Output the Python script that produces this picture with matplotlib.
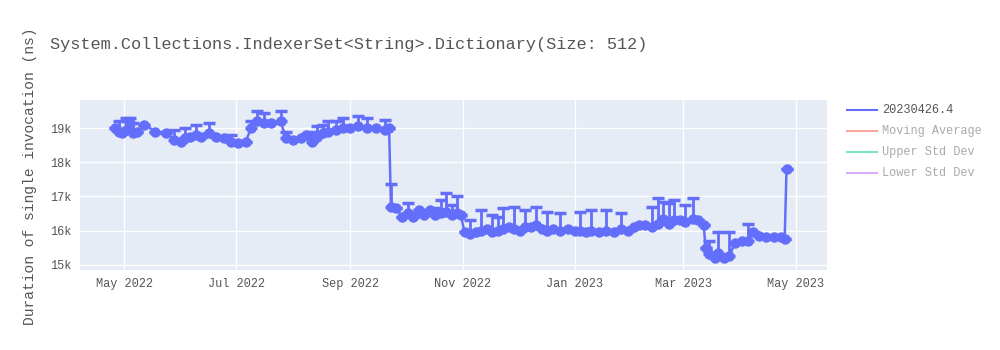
import matplotlib
matplotlib.use('Agg')
import matplotlib.pyplot as plt
import matplotlib.dates as mdates
import numpy as np
import pandas as pd

dates = [
    '2022-04-26', '2022-04-28', '2022-04-30', '2022-05-02', '2022-05-04', '2022-05-06',
    '2022-05-08', '2022-05-12', '2022-05-18', '2022-05-24', '2022-05-28', '2022-06-01',
    '2022-06-03', '2022-06-06', '2022-06-09', '2022-06-12', '2022-06-16', '2022-06-20',
    '2022-06-24', '2022-06-28', '2022-07-02', '2022-07-06', '2022-07-09', '2022-07-12',
    '2022-07-16', '2022-07-20', '2022-07-25', '2022-07-28', '2022-08-01', '2022-08-05',
    '2022-08-08', '2022-08-11', '2022-08-14', '2022-08-17', '2022-08-20', '2022-08-24',
    '2022-08-28', '2022-09-01', '2022-09-05', '2022-09-10', '2022-09-15', '2022-09-20',
    '2022-09-22', '2022-09-23', '2022-09-26', '2022-09-29', '2022-10-02', '2022-10-05',
    '2022-10-08', '2022-10-11', '2022-10-14', '2022-10-17', '2022-10-20', '2022-10-23',
    '2022-10-26', '2022-10-29', '2022-10-31', '2022-11-02', '2022-11-05', '2022-11-08',
    '2022-11-11', '2022-11-14', '2022-11-17', '2022-11-20', '2022-11-23', '2022-11-26',
    '2022-11-29', '2022-12-02', '2022-12-05', '2022-12-08', '2022-12-11', '2022-12-14',
    '2022-12-17', '2022-12-20', '2022-12-24', '2022-12-28', '2023-01-01', '2023-01-04',
    '2023-01-07', '2023-01-10', '2023-01-14', '2023-01-18', '2023-01-22', '2023-01-26',
    '2023-01-30', '2023-02-02', '2023-02-05', '2023-02-08', '2023-02-12', '2023-02-15',
    '2023-02-18', '2023-02-21', '2023-02-24', '2023-02-27', '2023-03-02', '2023-03-06',
    '2023-03-09', '2023-03-12', '2023-03-13', '2023-03-15', '2023-03-18', '2023-03-20',
    '2023-03-23', '2023-03-26', '2023-03-29', '2023-04-02', '2023-04-05', '2023-04-08',
    '2023-04-11', '2023-04-15', '2023-04-19', '2023-04-23', '2023-04-25', '2023-04-26',
]
values = [
    19000, 18900, 18850, 18950, 19150, 18850,
    18900, 19100, 18900, 18850, 18650, 18600,
    18700, 18750, 18800, 18750, 18850, 18750,
    18700, 18600, 18550, 18600, 19000, 19200,
    19150, 19150, 19200, 18700, 18650, 18700,
    18800, 18600, 18750, 18850, 18900, 18950,
    19000, 19000, 19050, 19000, 19000, 18950,
    19000, 16700, 16650, 16400, 16500, 16400,
    16600, 16450, 16600, 16450, 16500, 16550,
    16450, 16500, 16450, 15950, 15900, 15950,
    16000, 16050, 15950, 16000, 16050, 16100,
    16050, 16000, 16100, 16100, 16150, 16050,
    16000, 16050, 16000, 16050, 16000, 16000,
    15950, 16000, 15950, 16000, 15950, 16050,
    16000, 16100, 16150, 16150, 16100, 16200,
    16350, 16200, 16300, 16300, 16250, 16350,
    16300, 16150, 15500, 15300, 15200, 15350,
    15200, 15250, 15650, 15700, 15700, 15950,
    15850, 15800, 15800, 15800, 15750, 17800,
]
err_up = [
    0, 300, 0, 350, 150, 300,
    0, 0, 0, 0, 300, 0,
    300, 0, 300, 0, 300, 0,
    0, 200, 0, 0, 200, 300,
    300, 0, 300, 200, 0, 0,
    0, 300, 300, 250, 300, 250,
    300, 0, 300, 300, 0, 300,
    0, 650, 0, 0, 300, 0,
    0, 0, 0, 200, 400, 550,
    300, 500, 0, 0, 400, 0,
    600, 0, 500, 400, 600, 0,
    650, 0, 500, 0, 550, 0,
    550, 0, 500, 0, 0, 550,
    0, 600, 0, 600, 0, 450,
    0, 0, 0, 0, 600, 750,
    500, 600, 600, 0, 500, 600,
    0, 0, 0, 400, 0, 600,
    0, 700, 0, 0, 500, 0,
    0, 0, 0, 0, 0, 0,
]

legend_names = ['20230426.4', 'Moving Average', 'Upper Std Dev', 'Lower Std Dev']
legend_colors = ['#636efa', '#EF553B', '#00cc96', '#ab63fa']

title = 'System.Collections.IndexerSet<String>.Dictionary(Size: 512)'
ylabel = 'Duration of single invocation (ns)'

plt.rcParams['font.family'] = ['Liberation Mono', 'DejaVu Sans Mono']

x = pd.to_datetime(dates)
fig = plt.figure(figsize=(10, 3.5), dpi=100)
ax = fig.add_axes([0.08, 0.229, 0.747, 0.485])
ax.set_facecolor('#E5ECF6')

# основная серия с ошибками вверх
ax.errorbar(x, values, yerr=[np.zeros(len(err_up)), err_up], color=legend_colors[0],
            lw=1.8, marker='o', ms=6.5, elinewidth=2, capsize=4, capthick=2.5, zorder=3)

ax.set_xlim(pd.Timestamp('2022-04-07'), pd.Timestamp('2023-05-18'))
ax.set_ylim(14850, 19820)
ax.set_yticks([15000, 16000, 17000, 18000, 19000])
ax.set_yticklabels(['15k', '16k', '17k', '18k', '19k'])
ax.xaxis.set_major_locator(mdates.MonthLocator(bymonth=[1, 3, 5, 7, 9, 11]))
ax.xaxis.set_major_formatter(mdates.DateFormatter('%b %Y'))

ax.grid(True, color='white', lw=1)
ax.set_axisbelow(True)
for s in ax.spines.values():
    s.set_visible(False)
ax.tick_params(length=0, labelsize=8.6, colors='#555555', pad=6)

fig.text(0.05, 1 - 45 / 350, title, fontsize=12.2, color='#555555', va='center')
fig.text(0.03, 1 - 176 / 350, ylabel, fontsize=10.5, color='#555555', rotation=90,
         va='center', ha='center')

# легенда справа
for i, (name, c) in enumerate(zip(legend_names, legend_colors)):
    yy = 1 - (110 + i * 21) / 350
    alpha = 1.0 if i == 0 else 0.5
    fig.add_artist(plt.Line2D([0.847, 0.877], [yy, yy], color=c, lw=1.5, alpha=alpha))
    fig.text(0.882, yy, name, fontsize=8.6, color='#555555', alpha=alpha, va='center')

fig.savefig('out.png', dpi=100)
